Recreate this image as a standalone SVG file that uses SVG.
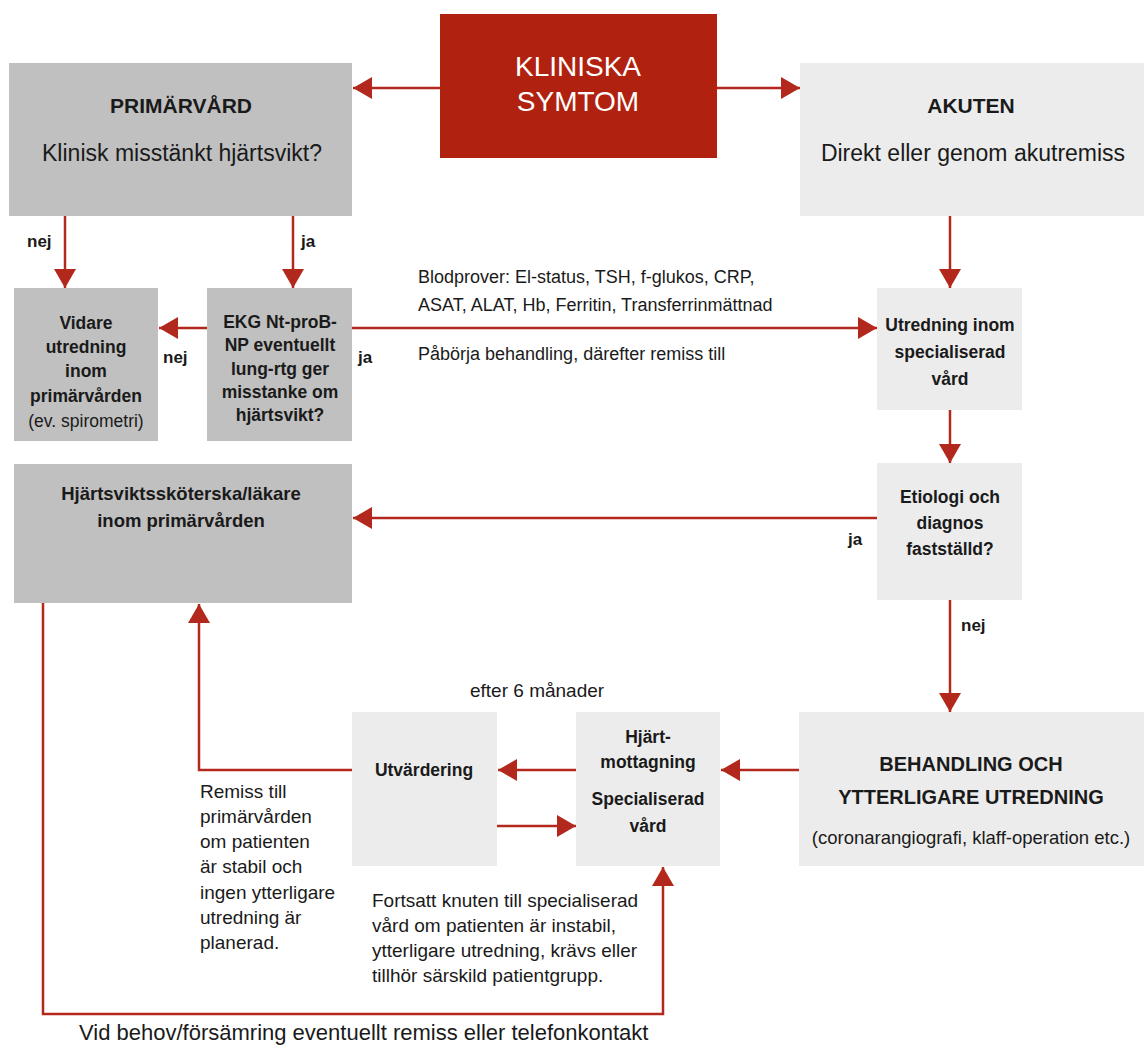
<svg xmlns="http://www.w3.org/2000/svg" width="1144" height="1048" viewBox="0 0 1144 1048">
<style>
text{font-family:"Liberation Sans",Arial,sans-serif;fill:#1a1a1a}
.b{font-weight:bold}
.c{text-anchor:middle}
.dk{fill:#c0c0c0}
.lt{fill:#ececec}
.red{fill:#b0220f}
.ln{fill:none;stroke:#b3281c;stroke-width:2.5;marker-end:url(#ah)}
.box{font-size:17.5px;font-weight:bold}
.ann{font-size:19px}
.ann18{font-size:18px}
.ann22{font-size:22px}
.lab{font-size:17px;font-weight:bold}
</style>
<defs>
<marker id="ah" markerUnits="userSpaceOnUse" markerWidth="20" markerHeight="22" refX="19" refY="11" orient="auto">
<path d="M0,0 L19,11 L0,22 Z" fill="#b3281c"/>
</marker>
</defs>
<rect width="1144" height="1048" fill="#fff"/>

<g id="connectors">
<path class="ln" d="M440,88 H353"/>
<path class="ln" d="M717,88 H800"/>
<path class="ln" d="M65,216 V288"/>
<path class="ln" d="M293,216 V288"/>
<path class="ln" d="M207,328 H159"/>
<path class="ln" d="M352,328 H877"/>
<path class="ln" d="M950,216 V288"/>
<path class="ln" d="M950,410 V463"/>
<path class="ln" d="M877,518 H353"/>
<path class="ln" d="M950,600 V712"/>
<path class="ln" d="M799,770 H721"/>
<path class="ln" d="M576,770 H498"/>
<path class="ln" d="M497,826 H576"/>
<path class="ln" d="M352,770 H199 V604"/>
<path class="ln" d="M43,603 V1014 H663 V867"/>
</g>

<g id="klin">
<rect class="red" x="440" y="14" width="277" height="144"/>
<text class="c" x="578" y="76" font-size="28" style="fill:#fff">KLINISKA</text>
<text class="c" x="578" y="111" font-size="28" style="fill:#fff">SYMTOM</text>
</g>

<g id="prim">
<rect class="dk" x="9" y="63" width="343" height="153"/>
<text class="c b" x="181" y="113" font-size="21">PRIMÄRVÅRD</text>
<text class="c" x="182" y="161" font-size="23">Klinisk misstänkt hjärtsvikt?</text>
</g>

<g id="akut">
<rect class="lt" x="800" y="63" width="344" height="153"/>
<text class="c b" x="971" y="113" font-size="21">AKUTEN</text>
<text class="c" x="973" y="161" font-size="23">Direkt eller genom akutremiss</text>
</g>

<g id="vidare">
<rect class="dk" x="14" y="288" width="144" height="153"/>
<text class="c box" x="86" y="329">Vidare</text>
<text class="c box" x="86" y="353">utredning</text>
<text class="c box" x="86" y="377">inom</text>
<text class="c box" x="86" y="402">primärvården</text>
<text class="c" x="86" y="427" font-size="17.5">(ev. spirometri)</text>
</g>

<g id="ekg">
<rect class="dk" x="207" y="288" width="145" height="153"/>
<text class="c box" x="280" y="328">EKG Nt-proB-</text>
<text class="c box" x="280" y="351">NP eventuellt</text>
<text class="c box" x="280" y="375">lung-rtg ger</text>
<text class="c box" x="280" y="398">misstanke om</text>
<text class="c box" x="280" y="421">hjärtsvikt?</text>
</g>

<g id="utred">
<rect class="lt" x="877" y="288" width="145" height="122"/>
<text class="c box" x="950" y="331">Utredning inom</text>
<text class="c box" x="950" y="358">specialiserad</text>
<text class="c box" x="950" y="385">vård</text>
</g>

<g id="etiol">
<rect class="lt" x="877" y="463" width="145" height="137"/>
<text class="c box" x="950" y="503">Etiologi och</text>
<text class="c box" x="950" y="529">diagnos</text>
<text class="c box" x="950" y="555">fastställd?</text>
</g>

<g id="hjsv">
<rect class="dk" x="14" y="464" width="338" height="139"/>
<text class="c b" x="181" y="500" font-size="18.5">Hjärtsviktssköterska/läkare</text>
<text class="c b" x="181" y="527" font-size="18.5">inom primärvården</text>
</g>

<g id="behandl">
<rect class="lt" x="799" y="712" width="345" height="154"/>
<text class="c b" x="971" y="771" font-size="20">BEHANDLING OCH</text>
<text class="c b" x="971" y="804" font-size="20">YTTERLIGARE UTREDNING</text>
<text class="c" x="971" y="844" font-size="18.5">(coronarangiografi, klaff-operation etc.)</text>
</g>

<g id="hjmott">
<rect class="lt" x="576" y="712" width="144" height="154"/>
<text class="c box" x="648" y="743">Hjärt-</text>
<text class="c box" x="648" y="768">mottagning</text>
<text class="c box" x="648" y="805">Specialiserad</text>
<text class="c box" x="648" y="832">vård</text>
</g>

<g id="utvard">
<rect class="lt" x="352" y="712" width="145" height="154"/>
<text class="c box" x="424" y="776">Utvärdering</text>
</g>

<g id="labels">
<text class="lab" x="27" y="247">nej</text>
<text class="lab" x="301" y="247">ja</text>
<text class="lab" x="163" y="363">nej</text>
<text class="lab" x="358" y="363">ja</text>
<text class="lab" x="848" y="545">ja</text>
<text class="lab" x="961" y="631">nej</text>
<text class="ann18" x="418" y="283">Blodprover: El-status, TSH, f-glukos, CRP,</text>
<text class="ann18" x="418" y="311">ASAT, ALAT, Hb, Ferritin, Transferrinmättnad</text>
<text class="ann18" x="418" y="360">Påbörja behandling, därefter remiss till</text>
<text class="ann" x="470" y="697">efter 6 månader</text>
<text class="ann" x="200" y="798">Remiss till</text>
<text class="ann" x="200" y="823">primärvården</text>
<text class="ann" x="200" y="848">om patienten</text>
<text class="ann" x="200" y="873">är stabil och</text>
<text class="ann" x="200" y="899">ingen ytterligare</text>
<text class="ann" x="200" y="924">utredning är</text>
<text class="ann" x="200" y="949">planerad.</text>
<text class="ann" x="372" y="907">Fortsatt knuten till specialiserad</text>
<text class="ann" x="372" y="932">vård om patienten är instabil,</text>
<text class="ann" x="372" y="957">ytterligare utredning, krävs eller</text>
<text class="ann" x="372" y="982">tillhör särskild patientgrupp.</text>
<text class="ann22" x="79" y="1040">Vid behov/försämring eventuellt remiss eller telefonkontakt</text>
</g>
</svg>
